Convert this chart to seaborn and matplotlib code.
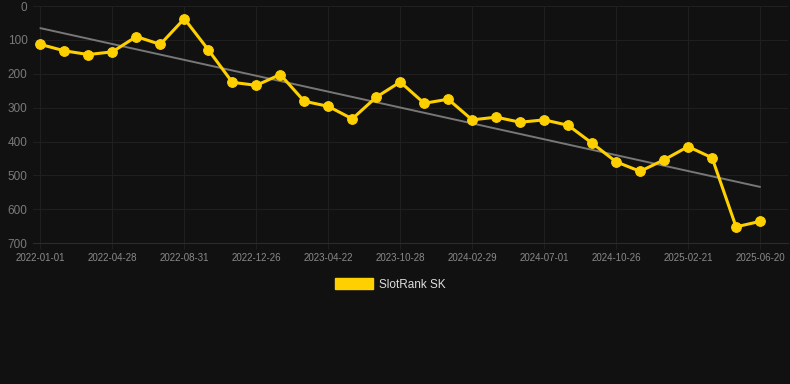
# SlotRank SK over time: rank line with linear trend, dark theme
import numpy as np
import pandas as pd
import seaborn as sns
import matplotlib.pyplot as plt
from matplotlib.patches import Patch

# rank values (lower is better, axis inverted)
ranks = [113, 132, 143, 135, 90, 113, 37, 129, 225, 234, 202,
         281, 296, 333, 269, 224, 287, 275, 336, 328, 343, 336,
         352, 405, 460, 488, 454, 415, 448, 652, 636]

# labels shown under every third point
tick_labels = ["2022-01-01", "2022-04-28", "2022-08-31", "2022-12-26",
               "2023-04-22", "2023-10-28", "2024-02-29", "2024-07-01",
               "2024-10-26", "2025-02-21", "2025-06-20"]

# trend line end values as drawn
trend_values = [65, 534]

y_ticks = [0, 100, 200, 300, 400, 500, 600, 700]

bg = "#111111"
grid_col = "#1f1f1f"
gold = "#FFD000"

df = pd.DataFrame({"idx": np.arange(len(ranks)), "rank": ranks})
trend_df = pd.DataFrame({"idx": [0, len(ranks) - 1], "rank": trend_values})

sns.set_style("dark", {"axes.facecolor": bg, "figure.facecolor": bg,
                       "grid.color": grid_col})
plt.rcParams["font.family"] = ["Liberation Sans", "DejaVu Sans"]

fig = plt.figure(figsize=(7.9, 3.84), dpi=100)
ax = fig.add_axes([0.042, 0.367, 0.955, 0.617])

sns.lineplot(data=trend_df, x="idx", y="rank", ax=ax, color="#777777",
             linewidth=1.4, zorder=2)
sns.lineplot(data=df, x="idx", y="rank", ax=ax, color=gold, linewidth=2.2,
             marker="o", markersize=7, markeredgecolor=gold, zorder=3)

ax.set_ylim(700, 0)
ax.set_xlim(-0.3, 31.15)
ax.set_yticks(y_ticks)
ax.set_xticks(np.arange(0, len(ranks), 3))
ax.set_xticklabels(tick_labels)
ax.grid(True, color=grid_col, linewidth=0.8)
ax.tick_params(axis="y", labelsize=8.5, labelcolor="#7a7a7a", length=0, pad=4)
ax.tick_params(axis="x", labelsize=7, labelcolor="#8a8a8a", length=4,
               color=grid_col, pad=3, bottom=True)
ax.set_xlabel("")
ax.set_ylabel("")
for s in ax.spines.values():
    s.set_visible(False)
ax.spines["bottom"].set_visible(True)
ax.spines["bottom"].set_color("#2b2b2b")
ax.spines["bottom"].set_linewidth(0.8)

fig.legend(handles=[Patch(facecolor=gold, edgecolor=gold, label="SlotRank SK")],
           loc="center", bbox_to_anchor=(0.494, 0.26), frameon=False,
           fontsize=8.5, labelcolor="#dddddd", handlelength=3.3, handleheight=1.1,
           handletextpad=0.5)

fig.savefig("out.png", dpi=100, facecolor=bg)
